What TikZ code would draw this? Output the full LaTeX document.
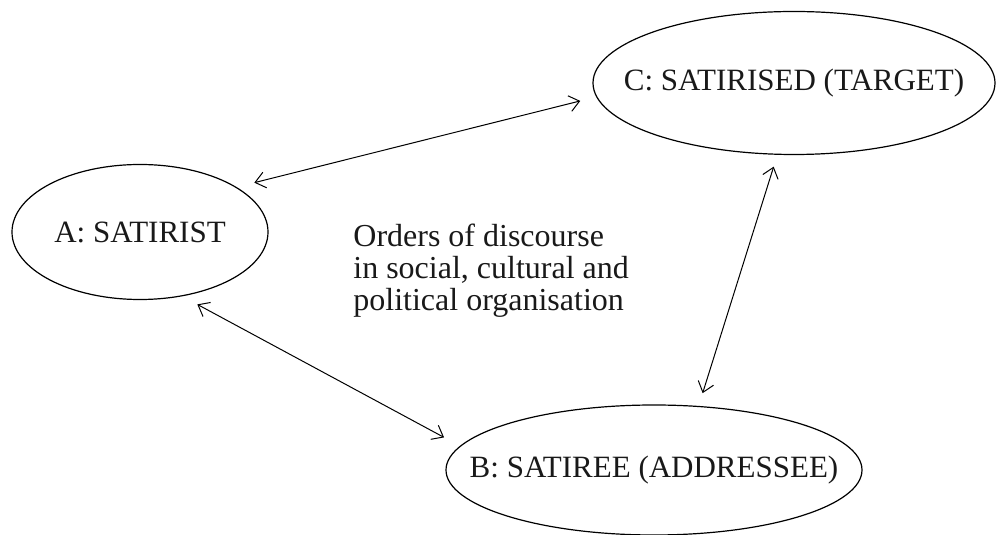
\documentclass[tikz,border=0pt]{standalone}
\usepackage{fontspec}
\setmainfont{Liberation Serif}
\usetikzlibrary{shapes.geometric,arrows.meta}
\begin{document}
\begin{tikzpicture}[x=0.5pt,y=0.5pt,
    role/.style={ellipse,draw,line width=0.6pt,inner sep=0pt,outer sep=0pt},
    rolename/.style={font=\fontsize{15.5}{18}\selectfont,text=black!90},
    link/.style={{Straight Barb[length=5pt,width=8pt]}-{Straight Barb[length=5pt,width=8pt]},
      line width=0.5pt}]
\useasboundingbox (0,0) rectangle (996,535);
% the three parties
\node[role,minimum width=128pt,minimum height=67.5pt,
    label={[rolename]center:{A: SATIRIST}}] (A) at (140,303) {};
\node[role,minimum width=201pt,minimum height=71.5pt,
    label={[rolename]center:{C: SATIRISED (TARGET)}}] (C) at (794,452) {};
\node[role,minimum width=208pt,minimum height=65pt,
    label={[rolename]center:{B: SATIREE (ADDRESSEE)}}] (B) at (654,65) {};
% middle text
\node[anchor=north west,align=left,inner sep=0pt,text=black!90,
    font=\fontsize{16}{16}\selectfont] (orders) at (353,311)
    {Orders of discourse\\in social, cultural and\\political organisation};
% links
\draw[link,shorten <=9.5pt,shorten >=8.5pt] (A.25) -- (C.184);
\draw[link,shorten <=9pt,shorten >=9.3pt] (A.-57) -- (B.173);
\draw[link,shorten <=7pt,shorten >=6.5pt] (B.55) -- (C.257);
\end{tikzpicture}
\end{document}
